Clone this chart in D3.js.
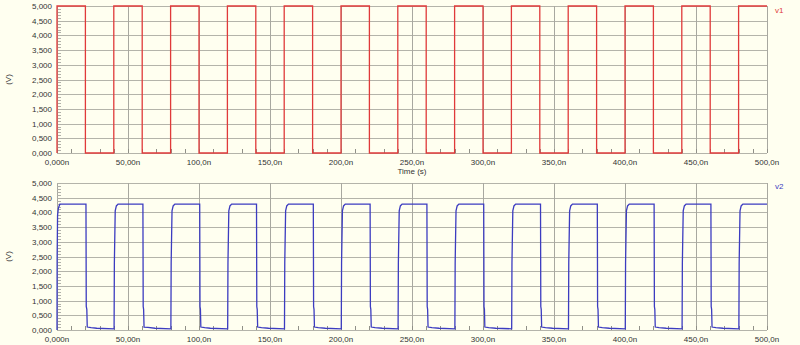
<!DOCTYPE html>
<html>
<head>
<meta charset="utf-8">
<script src="https://cdn.jsdelivr.net/npm/d3@7/dist/d3.min.js"></script>
<style>
  body { margin: 0; background: #fffff0; }
  svg { display: block; font-family: "Liberation Sans", Arial, sans-serif; }
</style>
</head>
<body>
<svg width="800" height="345"></svg>
<script>
// time in ns, voltage in V
var xTicks = [0, 50, 100, 150, 200, 250, 300, 350, 400, 450, 500];
var xTickLabels = ["0,000n", "50,00n", "100,0n", "150,0n", "200,0n", "250,0n", "300,0n", "350,0n", "400,0n", "450,0n", "500,0n"];
var yTicks = [0, 0.5, 1, 1.5, 2, 2.5, 3, 3.5, 4, 4.5, 5];
var yTickLabels = ["0,000", "0,500", "1,000", "1,500", "2,000", "2,500", "3,000", "3,500", "4,000", "4,500", "5,000"];

// v1: ideal square input
var v1Time = [0, 0, 20, 20, 40, 40, 60, 60, 80, 80, 100, 100, 120, 120, 140, 140, 160, 160,
  180, 180, 200, 200, 220, 220, 240, 240, 260, 260, 280, 280, 300, 300, 320, 320, 340, 340,
  360, 360, 380, 380, 400, 400, 420, 420, 440, 440, 460, 460, 480, 480, 500];
var v1Volt = [0, 5, 5, 0, 0, 5, 5, 0, 0, 5, 5, 0, 0, 5, 5, 0, 0, 5,
  5, 0, 0, 5, 5, 0, 0, 5, 5, 0, 0, 5, 5, 0, 0, 5, 5, 0,
  0, 5, 5, 0, 0, 5, 5, 0, 0, 5, 5, 0, 0, 5, 5];

// v2: output
var v2Points = [
  [0, 0], [0.1, 2.5], [0.4, 3.9], [1.0, 4.15], [2.0, 4.28], [20.4, 4.28],
  [20.6, 0.8], [21.0, 0.7], [21.3, 0.1], [24, 0.08], [28, 0.06], [40.2, 0.04],
  [40.4, 2.3], [41.0, 4.05], [41.8, 4.22], [43.0, 4.28], [60.5, 4.28],
  [60.7, 0.8], [61.0, 0.7], [61.3, 0.1], [64, 0.09], [69, 0.06], [80.2, 0.04],
  [80.4, 2.3], [81.0, 4.05], [81.8, 4.22], [83.0, 4.28], [100.5, 4.28],
  [100.7, 0.8], [101.0, 0.7], [101.3, 0.1], [104, 0.08], [108, 0.06], [120.2, 0.04],
  [120.4, 2.3], [121.0, 4.05], [121.8, 4.22], [123.0, 4.28], [140.5, 4.28],
  [140.7, 0.8], [141.0, 0.7], [141.3, 0.1], [144, 0.08], [149, 0.06], [160.2, 0.04],
  [160.4, 2.3], [161.0, 4.05], [161.8, 4.22], [163.0, 4.28], [180.5, 4.28],
  [180.7, 0.8], [181.0, 0.7], [181.3, 0.1], [184, 0.08], [189, 0.06], [200.2, 0.04],
  [200.4, 2.3], [201.0, 4.05], [201.8, 4.22], [203.0, 4.28], [220.5, 4.28],
  [220.7, 0.8], [221.0, 0.7], [221.3, 0.1], [224, 0.08], [229, 0.06], [240.2, 0.04],
  [240.4, 2.3], [241.0, 4.05], [241.8, 4.22], [243.0, 4.28], [260.5, 4.28],
  [260.7, 0.8], [261.0, 0.7], [261.3, 0.1], [264, 0.08], [269, 0.06], [280.2, 0.04],
  [280.4, 2.3], [281.0, 4.05], [281.8, 4.22], [283.0, 4.28], [300.5, 4.28],
  [300.7, 0.8], [301.0, 0.7], [301.3, 0.1], [304, 0.08], [309, 0.06], [320.2, 0.04],
  [320.4, 2.3], [321.0, 4.05], [321.8, 4.22], [323.0, 4.28], [340.5, 4.28],
  [340.7, 0.8], [341.0, 0.7], [341.3, 0.1], [344, 0.08], [349, 0.06], [360.2, 0.04],
  [360.4, 2.3], [361.0, 4.05], [361.8, 4.22], [363.0, 4.28], [380.5, 4.28],
  [380.7, 0.8], [381.0, 0.7], [381.3, 0.1], [384, 0.08], [389, 0.06], [400.2, 0.04],
  [400.4, 2.3], [401.0, 4.05], [401.8, 4.22], [403.0, 4.28], [420.5, 4.28],
  [420.7, 0.8], [421.0, 0.7], [421.3, 0.1], [424, 0.08], [429, 0.06], [440.2, 0.04],
  [440.4, 2.3], [441.0, 4.05], [441.8, 4.22], [443.0, 4.28], [460.5, 4.28],
  [460.7, 0.8], [461.0, 0.7], [461.3, 0.1], [464, 0.08], [469, 0.06], [480.2, 0.04],
  [480.4, 2.3], [481.0, 4.05], [481.8, 4.22], [483.0, 4.28], [500, 4.28]
];

var svg = d3.select("svg");
svg.append("rect").attr("width", 800).attr("height", 345).attr("fill", "#fffff0");

var x = d3.scaleLinear().domain([0, 500]).range([57, 767]);

function drawPanel(top, bottom, data, color, name, legendY) {
  var y = d3.scaleLinear().domain([0, 5]).range([bottom, top]);
  var g = svg.append("g");

  // grid
  g.selectAll(".hg").data(yTicks).enter().append("line")
    .attr("x1", x(0)).attr("x2", x(500))
    .attr("y1", function(d) { return Math.round(y(d)) + 0.5; })
    .attr("y2", function(d) { return Math.round(y(d)) + 0.5; })
    .attr("stroke", "#b4b4aa").attr("stroke-width", 1);
  g.selectAll(".vg").data(xTicks).enter().append("line")
    .attr("x1", function(d) { return Math.round(x(d)) + 0.5; })
    .attr("x2", function(d) { return Math.round(x(d)) + 0.5; })
    .attr("y1", y(5)).attr("y2", y(0))
    .attr("stroke", "#a8a8a0").attr("stroke-width", 1);

  // minor ticks
  var yMinor = d3.range(0, 5.001, 0.1);
  g.selectAll(".ym").data(yMinor).enter().append("line")
    .attr("x1", x(0)).attr("x2", x(0) + 4)
    .attr("y1", function(d) { return Math.round(y(d)) + 0.5; })
    .attr("y2", function(d) { return Math.round(y(d)) + 0.5; })
    .attr("stroke", "#b0b0a8");
  var xMinor = d3.range(0, 500.1, 10);
  g.selectAll(".xm").data(xMinor).enter().append("line")
    .attr("x1", function(d) { return Math.round(x(d)) + 0.5; })
    .attr("x2", function(d) { return Math.round(x(d)) + 0.5; })
    .attr("y1", y(0)).attr("y2", y(0) - 4)
    .attr("stroke", "#909088");

  // axis labels
  g.selectAll(".yl").data(yTicks).enter().append("text")
    .attr("x", 52).attr("y", function(d) { return y(d) + 3; })
    .attr("text-anchor", "end").attr("font-size", 8).attr("fill", "#333")
    .text(function(d, i) { return yTickLabels[i]; });
  g.selectAll(".xl").data(xTicks).enter().append("text")
    .attr("x", function(d) { return x(d); }).attr("y", bottom + 12)
    .attr("text-anchor", "middle").attr("font-size", 8).attr("fill", "#333")
    .text(function(d, i) { return xTickLabels[i]; });
  g.append("text").attr("x", (x(0) + x(500)) / 2).attr("y", bottom + 21)
    .attr("text-anchor", "middle").attr("font-size", 8).attr("fill", "#333")
    .text("Time (s)");
  g.append("text")
    .attr("transform", "translate(11," + ((top + bottom) / 2) + ") rotate(-90)")
    .attr("text-anchor", "middle").attr("font-size", 8).attr("fill", "#333")
    .text("(V)");

  // trace
  var line = d3.line()
    .x(function(d) { return x(d[0]); })
    .y(function(d) { return y(d[1]); });
  g.append("path").datum(data)
    .attr("d", line).attr("fill", "none")
    .attr("stroke", color).attr("stroke-width", 1.3);

  g.append("text").attr("x", 775).attr("y", legendY)
    .attr("font-size", 8).attr("fill", color).text(name);
}

var v1Points = v1Time.map(function(t, i) { return [t, v1Volt[i]]; });
drawPanel(6, 153, v1Points, "#e03a3a", "v1", 13);
drawPanel(183, 330, v2Points, "#3c3cc0", "v2", 189);
</script>
</body>
</html>
